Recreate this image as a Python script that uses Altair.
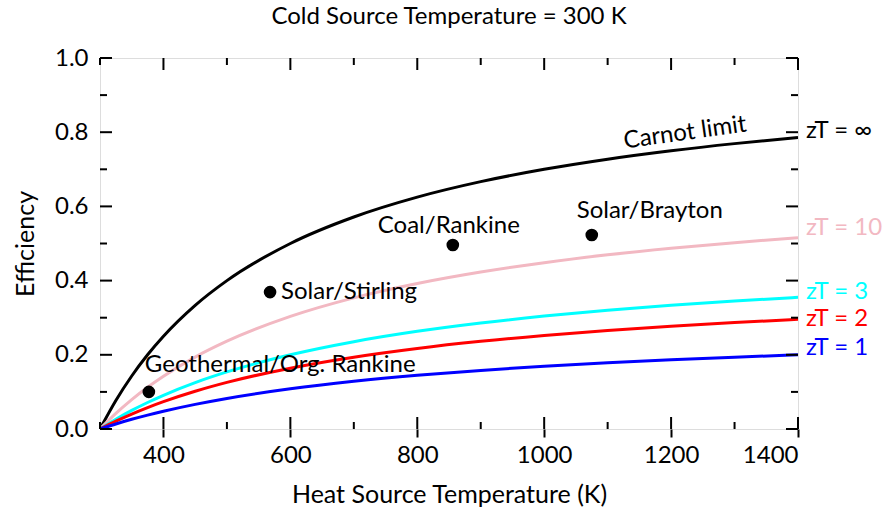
import altair as alt
import pandas as pd

# Heat source temperatures (K)
temps = [300, 325, 350, 375, 400, 450, 500, 600, 700, 800, 900, 1000, 1100, 1200, 1300, 1400]
# Efficiency curves
eff_carnot = [0.0, 0.0769, 0.1429, 0.2, 0.25, 0.3333, 0.4, 0.5, 0.5714, 0.625, 0.6667, 0.7, 0.7273, 0.75, 0.7692, 0.7857]
eff_zt10 = [0.0, 0.042, 0.0793, 0.1126, 0.1424, 0.1939, 0.2366, 0.3035, 0.3535, 0.3922, 0.4231, 0.4484, 0.4694, 0.4871, 0.5023, 0.5155]
eff_zt3 = [0.0, 0.0263, 0.05, 0.0714, 0.0909, 0.125, 0.1538, 0.2, 0.2353, 0.2632, 0.2857, 0.3043, 0.32, 0.3333, 0.3448, 0.3548]
eff_zt2 = [0.0, 0.0212, 0.0404, 0.0578, 0.0737, 0.1017, 0.1256, 0.164, 0.1936, 0.2171, 0.2363, 0.2522, 0.2656, 0.277, 0.2869, 0.2955]
eff_zt1 = [0.0, 0.0136, 0.0261, 0.0374, 0.0478, 0.0663, 0.0823, 0.1082, 0.1284, 0.1447, 0.158, 0.1691, 0.1786, 0.1867, 0.1937, 0.1998]

series_names = ["zT = ∞", "zT = 10", "zT = 3", "zT = 2", "zT = 1"]
series_colors = ["#000000", "#f2b8c2", "#00ffff", "#ff0000", "#0000ff"]
series_vals = [eff_carnot, eff_zt10, eff_zt3, eff_zt2, eff_zt1]
label_y = [0.803, 0.542, 0.368, 0.296, 0.218]

# Real systems
sys_names = ["Geothermal/Org. Rankine", "Solar/Stirling", "Coal/Rankine", "Solar/Brayton"]
sys_temp = [377, 568, 856, 1075]
sys_eff = [0.10, 0.369, 0.496, 0.523]

x_major = [400, 600, 800, 1000, 1200, 1400]
x_minor = [300, 500, 700, 900, 1100, 1300]
y_major = [0.0, 0.2, 0.4, 0.6, 0.8, 1.0]
y_minor = [0.1, 0.3, 0.5, 0.7, 0.9]

chart_title = "Cold Source Temperature = 300 K"

W, H = 698, 371
FONT = "Lato"
FS = 24

rows = []
for name, vals in zip(series_names, series_vals):
    for t, v in zip(temps, vals):
        rows.append({"T": t, "eff": v, "series": name})
curves = pd.DataFrame(rows)

xs = alt.Scale(domain=[300, 1400], nice=False, zero=False)
ys = alt.Scale(domain=[0, 1], nice=False)
color = alt.Scale(domain=series_names, range=series_colors)

base_x = alt.X("T:Q", scale=xs,
               axis=alt.Axis(title="Heat Source Temperature (K)", values=x_major, format="d",
                             domain=False, grid=False, tickSize=8, tickWidth=2, tickColor="black",
                             labelPadding=6, labelFontSize=FS, titleFontSize=25,
                             titleFontWeight="normal", titlePadding=15, labelFont=FONT,
                             titleFont=FONT, labelColor="black", titleColor="black"))
base_y = alt.Y("eff:Q", scale=ys,
               axis=alt.Axis(title="Efficiency", values=y_major, format=".1f",
                             domain=False, grid=False, ticks=False, labelPadding=12,
                             labelFontSize=FS, titleFontSize=25, titleFontWeight="normal",
                             titlePadding=16, labelFont=FONT, titleFont=FONT,
                             labelColor="black", titleColor="black"))

lines = alt.Chart(curves).mark_line(strokeWidth=3, interpolate="monotone", clip=True).encode(
    x=base_x, y=base_y,
    color=alt.Color("series:N", scale=color, legend=None),
    detail="series:N",
)

lab_df = pd.DataFrame({"T": [1400] * 5, "eff": label_y, "series": series_names})
right_labels = alt.Chart(lab_df).mark_text(align="left", baseline="middle", dx=8,
                                           fontSize=FS, font=FONT).encode(
    x=alt.X("T:Q", scale=xs), y=alt.Y("eff:Q", scale=ys),
    color=alt.Color("series:N", scale=color, legend=None),
    text="series:N",
)

sys_df = pd.DataFrame({"T": sys_temp, "eff": sys_eff, "name": sys_names})
points = alt.Chart(sys_df).mark_point(filled=True, size=160, color="black", opacity=1).encode(
    x=alt.X("T:Q", scale=xs), y=alt.Y("eff:Q", scale=ys),
)

def sys_label(i, align, dx, dy):
    return alt.Chart(sys_df.iloc[[i]]).mark_text(align=align, baseline="middle", dx=dx, dy=dy,
                                                 fontSize=FS, font=FONT, color="black").encode(
        x=alt.X("T:Q", scale=xs), y=alt.Y("eff:Q", scale=ys), text="name:N")

labels_sys = [
    sys_label(0, "left", -4, -27),
    sys_label(1, "left", 11, 0),
    sys_label(2, "center", -4, -19),
    sys_label(3, "center", 58, -24),
]

carnot_lab = alt.Chart(pd.DataFrame({"T": [1222], "eff": [0.798], "t": ["Carnot limit"]})).mark_text(
    align="center", baseline="middle", angle=352, fontSize=FS, font=FONT, color="black").encode(
    x=alt.X("T:Q", scale=xs), y=alt.Y("eff:Q", scale=ys), text="t:N")

title_mark = alt.Chart(pd.DataFrame({"t": [chart_title]})).mark_text(
    align="center", baseline="middle", fontSize=24, font=FONT, color="black").encode(
    x=alt.value(W / 2), y=alt.value(-41), text="t:N")

def xticks(df, L, top):
    if top:
        yv, y2v = 0, L
    else:
        yv, y2v = H, H - L
    return alt.Chart(df).mark_rule(strokeWidth=2, color="black").encode(
        x=alt.X("T:Q", scale=xs), y=alt.value(yv), y2=alt.value(y2v))

def yticks(df, L, right):
    if right:
        xv, x2v = W, W - L
    else:
        xv, x2v = 0, L
    return alt.Chart(df).mark_rule(strokeWidth=2, color="black").encode(
        y=alt.Y("eff:Q", scale=ys), x=alt.value(xv), x2=alt.value(x2v))

xmaj = pd.DataFrame({"T": x_major})
xmin = pd.DataFrame({"T": x_minor})
ymaj = pd.DataFrame({"eff": y_major})
ymin = pd.DataFrame({"eff": y_minor})

tick_layers = [
    xticks(xmaj, 12, False), xticks(xmin, 7, False),
    xticks(xmaj, 12, True), xticks(xmin, 7, True),
    yticks(ymaj, 12, False), yticks(ymin, 7, False),
    yticks(ymaj, 12, True), yticks(ymin, 7, True),
]

chart = alt.layer(lines, *tick_layers, points, *labels_sys, carnot_lab, right_labels,
                  title_mark).properties(
    width=W, height=H,
    autosize=alt.AutoSizeParams(type="none"),
    padding={"left": 100, "top": 58, "right": 88, "bottom": 85},
).configure_view(stroke="black", strokeWidth=2).configure(background="white")

chart.save("out.html", embed_options={"renderer": "svg", "actions": False})
